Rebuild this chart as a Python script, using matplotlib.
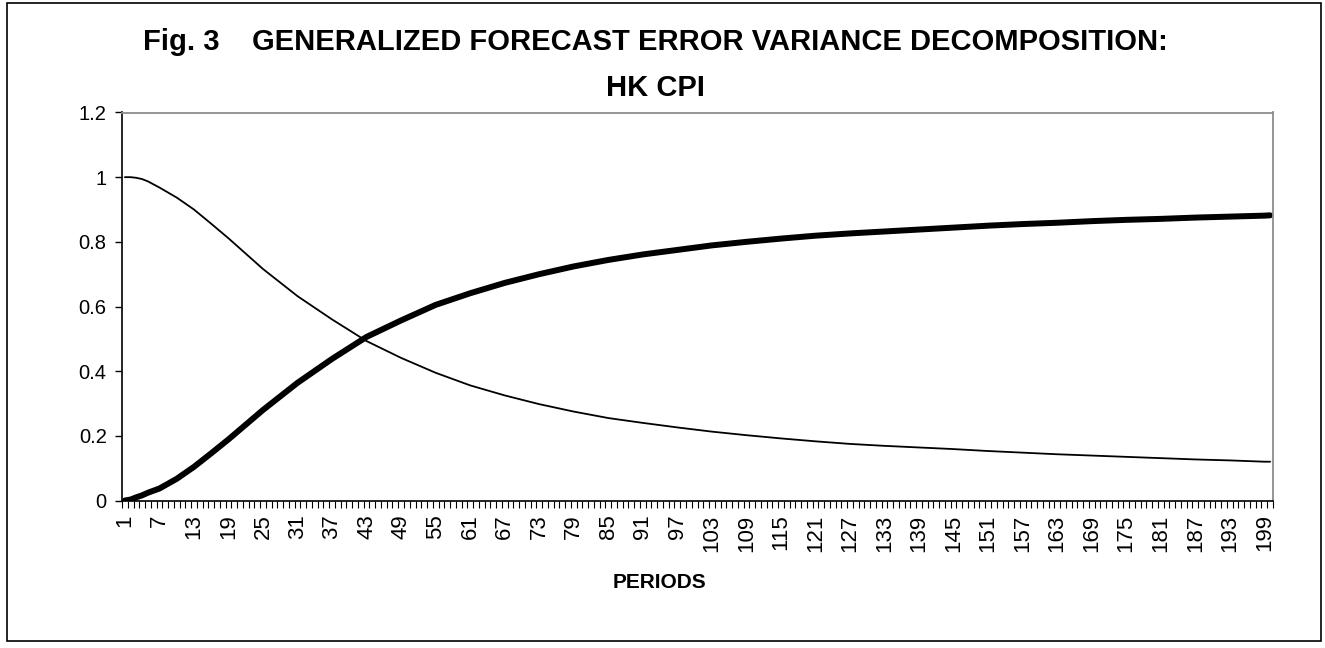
import matplotlib
matplotlib.use("Agg")
import matplotlib.pyplot as plt
from matplotlib.patches import Rectangle
from matplotlib.ticker import FixedLocator

# ---------------- data ----------------
periods = [1, 2, 3, 4, 5, 7, 10, 13, 16, 19, 25, 31, 37, 43, 49, 55, 61, 67, 73, 79,
           85, 91, 97, 103, 109, 115, 121, 127, 133, 139, 145, 151, 157, 163,
           169, 175, 181, 187, 193, 199, 200]
own_shock = [1.000, 1.000, 0.998, 0.994, 0.987, 0.968, 0.937, 0.900, 0.856, 0.811,
             0.716, 0.632, 0.560, 0.493, 0.441, 0.395, 0.356, 0.325, 0.298, 0.275,
             0.255, 0.240, 0.226, 0.213, 0.202, 0.192, 0.183, 0.175, 0.169,
             0.164, 0.159, 0.153, 0.148, 0.143, 0.139, 0.135, 0.131, 0.127,
             0.124, 0.120, 0.120]
other_shock = [0.000, 0.003, 0.010, 0.016, 0.024, 0.037, 0.067, 0.104, 0.146, 0.189,
               0.280, 0.364, 0.438, 0.506, 0.557, 0.605, 0.641, 0.673, 0.700, 0.724,
               0.744, 0.761, 0.775, 0.789, 0.800, 0.810, 0.819, 0.826, 0.832,
               0.838, 0.844, 0.850, 0.855, 0.859, 0.864, 0.868, 0.871, 0.875,
               0.878, 0.881, 0.882]
n_periods = 200
tick_periods = list(range(1, 200, 6))
tick_labels = [str(p) for p in tick_periods]
y_ticks = [0, 0.2, 0.4, 0.6, 0.8, 1.0, 1.2]
y_labels = ["0", "0.2", "0.4", "0.6", "0.8", "1", "1.2"]

title_line1 = "Fig. 3    GENERALIZED FORECAST ERROR VARIANCE DECOMPOSITION:"
title_line2 = "HK CPI"
x_label = "PERIODS"

# ---------------- figure ----------------
plt.rcParams["font.family"] = ["Liberation Sans", "DejaVu Sans"]
W, H = 1325, 648
fig = plt.figure(figsize=(W / 100, H / 100), dpi=100)

# outer chart frame
fig.patches.append(Rectangle((7 / W, (H - 641) / H), (1321 - 7) / W, (641 - 3) / H,
                             transform=fig.transFigure, fill=False,
                             edgecolor="black", linewidth=1.2))

left, right, top, bottom = 122, 1273, 112.5, 500.5
ax = fig.add_axes([left / W, (H - bottom) / H, (right - left) / W, (bottom - top) / H])

ax.plot(periods, own_shock, color="black", linewidth=1.3, solid_capstyle="round")
ax.plot(periods, other_shock, color="black", linewidth=4.3, solid_capstyle="round")

ax.set_xlim(0.5, n_periods + 0.5)
ax.set_ylim(0, 1.2)

ax.set_yticks(y_ticks)
ax.set_yticklabels(y_labels, fontsize=14.5)
ax.tick_params(axis="y", direction="out", length=5, width=1, pad=6)

ax.xaxis.set_major_locator(FixedLocator(tick_periods))
ax.set_xticklabels(tick_labels, rotation=90, fontsize=16, va="top", ha="center")
ax.xaxis.set_minor_locator(FixedLocator([i + 0.5 for i in range(0, n_periods + 1)]))
ax.tick_params(axis="x", which="major", length=0, pad=10)
ax.tick_params(axis="x", which="minor", direction="out", length=5, width=0.8)

for s in ("top", "right"):
    ax.spines[s].set_color("#8c8c8c")
    ax.spines[s].set_linewidth(1.3)
for s in ("left", "bottom"):
    ax.spines[s].set_color("black")
    ax.spines[s].set_linewidth(1.2)

fig.text(655 / W, 1 - 42 / H, title_line1, ha="center", va="center",
         fontsize=21, fontweight="bold")
fig.text(655 / W, 1 - 88 / H, title_line2, ha="center", va="center",
         fontsize=21, fontweight="bold")
fig.text(660 / W, 1 - 582 / H, x_label, ha="center", va="center",
         fontsize=15, fontweight="bold")

fig.savefig("out.png", dpi=100)
